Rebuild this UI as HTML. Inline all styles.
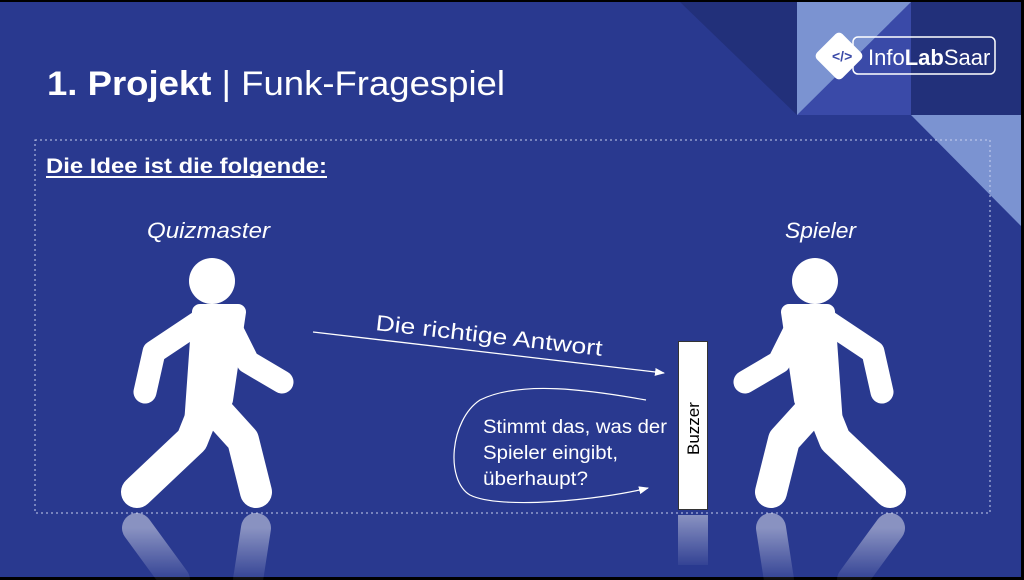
<!DOCTYPE html>
<html><head><meta charset="utf-8"><style>
html,body{margin:0;padding:0;background:#000;}
svg{display:block;}
text{font-family:"Liberation Sans",sans-serif;fill:#fff;}
</style></head><body>
<svg width="1024" height="580" viewBox="0 0 1024 580" xmlns="http://www.w3.org/2000/svg">
<defs>
<linearGradient id="fade" x1="0" y1="0" x2="0" y2="1">
<stop offset="0" stop-color="#fff" stop-opacity="0.45"/>
<stop offset="1" stop-color="#fff" stop-opacity="0.05"/>
</linearGradient>
<marker id="ah" markerWidth="10" markerHeight="8" refX="9" refY="4" orient="auto" markerUnits="userSpaceOnUse">
<path d="M0,0 L10,4 L0,8 z" fill="#fff"/>
</marker>
<g id="fig">
<circle cx="212" cy="281" r="23" fill="#fff"/>
<g stroke="#fff" stroke-linecap="round" stroke-linejoin="round" fill="#fff">
<path d="M200,312 L238,312 L225,400 L192,425 Z" stroke-width="16"/>
<path d="M205,318 L154,352 L145,392" stroke-width="23" fill="none"/>
<path d="M228,322 L248,362 L282,382" stroke-width="23" fill="none"/>
<path d="M200,420 L192,440 L137,492" stroke-width="32" fill="none"/>
<path d="M214,408 L243,440 L256,492" stroke-width="32" fill="none"/>
</g>
</g>
<g id="refl" stroke="url(#fade)" stroke-linecap="round" fill="none" stroke-width="30">
<path d="M137,528 L175,580"/>
<path d="M256,528 L248,580"/>
</g>
</defs>
<rect x="0" y="2" width="1021" height="575" fill="#29398f"/>
<polygon points="680,2 797,2 797,115" fill="#22307a"/>
<rect x="797" y="2" width="114" height="113" fill="#3a4aa8"/>
<polygon points="797,2 911,2 797,115" fill="#7b93d1"/>
<rect x="911" y="2" width="110" height="113" fill="#22307a"/>
<polygon points="911,115 1021,115 1021,226" fill="#7b93d1"/>
<!-- logo -->
<rect x="853" y="37" width="142" height="37" rx="5" fill="none" stroke="#fff" stroke-width="1.5"/>
<rect x="821" y="38" width="36" height="36" rx="5" transform="rotate(45 839 56)" fill="#fff"/>
<text x="832" y="61" font-size="14" style="fill:#3a4aa8" font-weight="bold">&lt;/&gt;</text>
<text x="868" y="65" font-size="22">Info<tspan font-weight="bold">Lab</tspan>Saar</text>
<!-- title -->
<text x="47" y="95" font-size="34" textLength="458" lengthAdjust="spacingAndGlyphs"><tspan font-weight="bold">1. Projekt</tspan> | Funk-Fragespiel</text>
<rect x="35" y="140" width="955" height="373" fill="none" stroke="#c8d0ee" stroke-width="1" stroke-dasharray="2,3"/>
<text x="46" y="173" font-size="21" font-weight="bold" textLength="281" lengthAdjust="spacingAndGlyphs">Die Idee ist die folgende:</text>
<rect x="46" y="176" width="281" height="2" fill="#fff"/>
<text x="147" y="238" font-size="22" font-style="italic" textLength="123" lengthAdjust="spacingAndGlyphs">Quizmaster</text>
<text x="785" y="238" font-size="22" font-style="italic" textLength="71" lengthAdjust="spacingAndGlyphs">Spieler</text>
<use href="#fig"/>
<use href="#refl"/>
<g transform="translate(1027,0) scale(-1,1)"><use href="#fig"/><use href="#refl"/></g>
<!-- arrow -->
<line x1="313" y1="332" x2="664" y2="373" stroke="#fff" stroke-width="1.3" marker-end="url(#ah)"/>
<text x="375" y="330" font-size="22" transform="rotate(6.5 375 330)" textLength="228" lengthAdjust="spacingAndGlyphs">Die richtige Antwort</text>
<path d="M646,400 C590,390 520,380 480,400 C450,420 445,480 470,495 C500,510 600,500 648,488" fill="none" stroke="#fff" stroke-width="1.2" marker-end="url(#ah)"/>
<text font-size="19"><tspan x="483" y="433" textLength="184" lengthAdjust="spacingAndGlyphs">Stimmt das, was der</tspan><tspan x="483" y="459" textLength="135" lengthAdjust="spacingAndGlyphs">Spieler eingibt,</tspan><tspan x="483" y="485" textLength="105" lengthAdjust="spacingAndGlyphs">überhaupt?</tspan></text>
<rect x="678.5" y="341.5" width="29" height="168" fill="#fff" stroke="#333" stroke-width="1"/>
<text x="0" y="0" font-size="17" style="fill:#000" transform="translate(699,455) rotate(-90)">Buzzer</text>
<rect x="678" y="515" width="30" height="50" fill="url(#fade)"/>
</svg>
</body></html>
